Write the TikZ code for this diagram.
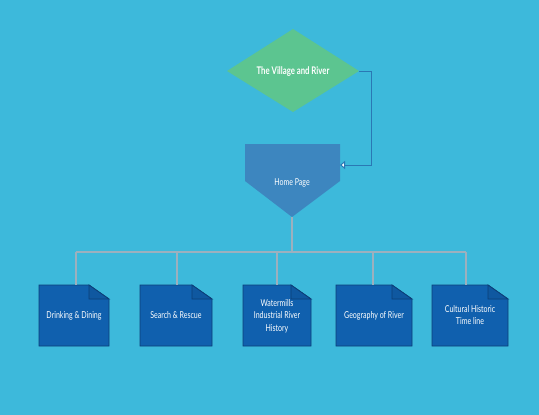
\documentclass[tikz,border=0pt]{standalone}
\usepackage{fontspec}
\setmainfont{Lato}
\usetikzlibrary{arrows.meta}
\definecolor{bg}{HTML}{3DB9DB}
\definecolor{dia}{HTML}{5CC590}
\definecolor{pent}{HTML}{3D86BF}
\definecolor{boxc}{HTML}{1060AE}
\definecolor{boxd}{HTML}{0C3F78}
\definecolor{lnk}{HTML}{2A78B4}
\definecolor{tree}{HTML}{9DB0BE}
\newcommand{\sqz}[1]{\scalebox{0.74}[1]{\begin{tabular}{@{}c@{}}#1\end{tabular}}}
\tikzset{
  lbl/.style={text=white,font=\fontsize{9.5}{12.5}\selectfont,align=center,inner sep=0pt},
  treeline/.style={draw=tree,line width=1.1pt},
  pagebox/.style={fill=boxc,draw=boxd,line width=0.8pt,line join=miter},
  fold/.style={draw=boxd,line width=0.8pt,fill=boxc!92!black},
}
\newcommand{\pagedoc}[5]{% name, cx, cy, halfwidth, text
  \fill[pagebox] (#2-#4,285) -- (#2+#4-20,285) -- (#2+#4,299) -- (#2+#4,346) -- (#2-#4,346) -- cycle;
  \filldraw[fold] (#2+#4-20,285) -- (#2+#4-20,299) -- (#2+#4,299) -- cycle;
  \node[lbl] (#1) at (#2,316) {\sqz{#5}};
  \coordinate (#1top) at (#2,285);
}
\begin{document}
\begin{tikzpicture}[x=1pt,y=-1pt]
\fill[bg] (0,0) rectangle (539,415);
\useasboundingbox (0,0) rectangle (539,415);
% diamond
\fill[dia] (227,71) -- (293,29) -- (359,71) -- (293,112) -- cycle;
\node[lbl,font=\fontsize{10.5}{12}\selectfont\bfseries] (village) at (293,72) {\sqz{The Village and River}};
\coordinate (dright) at (359,71);
% pentagon
\fill[pent] (245,144) -- (340,144) -- (340,181) -- (292,217) -- (245,181) -- cycle;
\node[lbl] (home) at (292,183) {\sqz{Home Page}};
\coordinate (pright) at (340,165);
\coordinate (pbot) at (292,217);
% connector
\draw[lnk,line width=1pt,-{Triangle[open,fill=white,length=5pt,width=8pt]}] (dright) -- (371,71) -- (371,165) -- (pright);
% documents
\pagedoc{d1}{74}{315}{35}{Drinking \& Dining}
\pagedoc{d2}{176}{315}{36}{Search \& Rescue}
\pagedoc{d3}{277}{315}{34}{Watermills\\Industrial River\\History}
\pagedoc{d4}{374}{315}{38}{Geography of River}
\pagedoc{d5}{470}{315}{38}{Cultural Historic\\Time line}
% tree
\coordinate (hub) at (292,252);
\draw[treeline] (pbot) -- (hub);
\draw[treeline] (76,252) -- (466,252);
\draw[treeline] (76,252) -- (76,285);
\draw[treeline] (177,252) -- (177,285);
\draw[treeline] (277,252) -- (d3top);
\draw[treeline] (373,252) -- (373,285);
\draw[treeline] (466,252) -- (466,285);
\end{tikzpicture}
\end{document}
